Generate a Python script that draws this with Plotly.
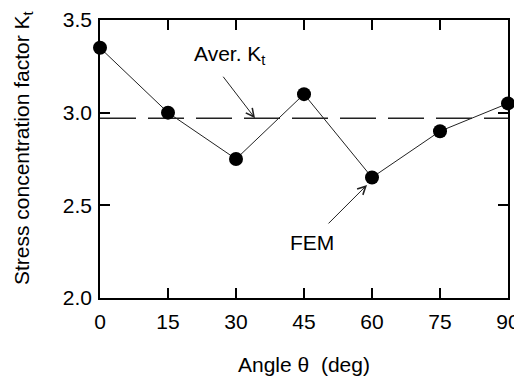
import plotly.graph_objects as go

angles = [0, 15, 30, 45, 60, 75, 90]
kt_fem = [3.35, 3.0, 2.75, 3.1, 2.65, 2.9, 3.05]
kt_avg = 2.97
x_ticks = [0, 15, 30, 45, 60, 75, 90]
y_ticks = [2.0, 2.5, 3.0, 3.5]
y_tick_text = ["2.0", "2.5", "3.0", "3.5"]

FONT = "Liberation Sans, Arial, sans-serif"

fig = go.Figure()
fig.add_trace(go.Scatter(
    x=[angles[0], angles[-1]], y=[kt_avg, kt_avg], mode="lines",
    line=dict(color="#222", width=1.5, dash="36px,12px"), showlegend=False,
    hoverinfo="skip"))
fig.add_trace(go.Scatter(
    x=angles, y=kt_fem, mode="lines+markers",
    line=dict(color="#222", width=1),
    marker=dict(color="black", size=14), showlegend=False, cliponaxis=False))

axis_common = dict(showline=True, linecolor="black", linewidth=1.5, mirror="allticks",
                   ticks="inside", ticklen=10, tickwidth=1.5, tickcolor="black",
                   showgrid=False, zeroline=False, automargin=False,
                   tickfont=dict(family=FONT, size=21, color="black"))

fig.update_xaxes(range=[0, 90], tickvals=x_ticks, ticklabelstandoff=4, **axis_common)
fig.update_yaxes(range=[2.0, 3.5], tickvals=y_ticks, ticktext=y_tick_text,
                 ticklabelstandoff=2, **axis_common)

fig.add_annotation(x=34.2, y=kt_avg, xref="x", yref="y", ax=-33, ay=-43,
                   text="", showarrow=True, arrowhead=5, arrowsize=1.6,
                   arrowwidth=1, arrowcolor="#222")
fig.add_annotation(x=28.6, y=3.31, xref="x", yref="y",
                   text="Aver. K<sub>t</sub>", showarrow=False,
                   xanchor="center", yanchor="middle",
                   font=dict(family=FONT, size=21, color="black"))
fig.add_annotation(x=58.9, y=2.61, xref="x", yref="y", ax=-40, ay=40,
                   text="", showarrow=True, arrowhead=5, arrowsize=1.6,
                   arrowwidth=1, arrowcolor="#222")
fig.add_annotation(x=46.8, y=2.30, xref="x", yref="y",
                   text="FEM", showarrow=False,
                   xanchor="center", yanchor="middle",
                   font=dict(family=FONT, size=21, color="black"))

fig.add_annotation(x=-0.189, y=0.539, xref="paper", yref="paper",
                   text="Stress concentration factor K<sub>t</sub>", textangle=-90,
                   showarrow=False, xanchor="center", yanchor="middle",
                   font=dict(family=FONT, size=21, color="black"))
fig.add_annotation(x=0.5, y=-0.241, xref="paper", yref="paper",
                   text="Angle \u03b8  (deg)", showarrow=False,
                   xanchor="center", yanchor="middle",
                   font=dict(family=FONT, size=21, color="black"))

fig.update_layout(width=514, height=369, margin=dict(l=92, r=14, t=12, b=79),
                  plot_bgcolor="white", paper_bgcolor="white",
                  font=dict(family=FONT, size=21, color="black"))

fig.write_html("out.html")
